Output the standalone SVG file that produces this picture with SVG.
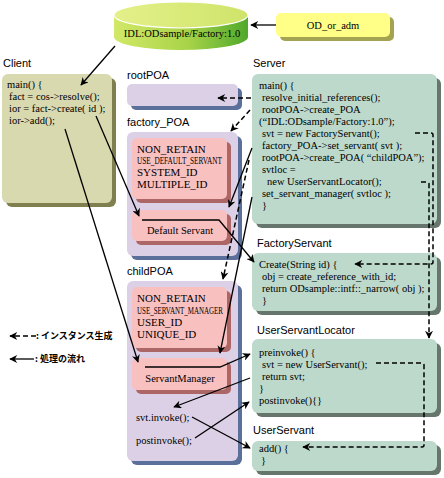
<svg xmlns="http://www.w3.org/2000/svg" width="444" height="478" viewBox="0 0 444 478">
<style>
.lbl{font-family:"Liberation Sans",Arial,sans-serif;font-size:11px;fill:#000}
.code{font-family:"Liberation Serif","Times New Roman",serif;font-size:10.5px;fill:#000}
.pol{font-family:"Liberation Serif","Times New Roman",serif;font-size:11px;fill:#000}
.polS{font-family:"Liberation Serif","Times New Roman",serif;font-size:9.5px;fill:#000}
.ln{fill:none;stroke:#000;stroke-width:1.3}
.dash{fill:none;stroke:#000;stroke-width:1.5;stroke-dasharray:5 3}
.cl{fill:#d9d9b0}.clS{fill:#7f7f4f}
.gr{fill:#bcd9cc}.grS{fill:#66766d}
.poa{fill:#dcd0e6}.poaS{fill:#5a6f9a}
.pk{fill:#f9c0c0}.pkS{fill:#ad6666}
.yl{fill:#ffff88}.ylS{fill:#a3a352}
.jp{font-family:"Noto Sans CJK JP","Liberation Sans",sans-serif;font-size:9px;font-weight:bold;fill:#000}
</style>
<defs>
<marker id="ah" viewBox="0 0 10 10" markerUnits="userSpaceOnUse" markerWidth="9" markerHeight="8" refX="9" refY="5" orient="auto">
<path d="M0,0 L10,5 L0,10 L3,5 z" fill="#000"/>
</marker>
<linearGradient id="cylBody" x1="0" y1="0" x2="1" y2="0">
<stop offset="0" stop-color="#d2e868"/>
<stop offset="0.55" stop-color="#a8d448"/>
<stop offset="1" stop-color="#4fa82c"/>
</linearGradient>
<linearGradient id="cylTop" x1="0" y1="0" x2="1" y2="0">
<stop offset="0" stop-color="#e4f08a"/>
<stop offset="1" stop-color="#cfe46a"/>
</linearGradient>
</defs>

<g id="repository">
<path d="M114,15 V37 A67,13 0 0 0 248,37 V15 Z" fill="url(#cylBody)"/>
<ellipse cx="181" cy="15" rx="67" ry="13" fill="url(#cylTop)" stroke="#ffffff" stroke-width="1.2"/>
<text class="code" x="182" y="37" text-anchor="middle">IDL:ODsample/Factory:1.0</text>
</g>

<g id="od_or_adm">
<rect class="ylS" x="280" y="17" width="114" height="24" rx="5"/>
<rect class="yl" x="276" y="13" width="114" height="24" rx="5"/>
<text class="code" x="333" y="29" text-anchor="middle">OD_or_adm</text>
</g>

<g id="client">
<text class="lbl" x="3" y="67">Client</text>
<rect class="clS" x="6" y="78" width="110" height="129" rx="6"/>
<rect class="cl" x="2" y="74" width="110" height="129" rx="6"/>
<text class="code" x="7" y="88">main() {</text>
<text class="code" x="9" y="100">fact = cos-&gt;resolve();</text>
<text class="code" x="9" y="112">ior = fact-&gt;create( id );</text>
<text class="code" x="9" y="124">ior-&gt;add();</text>
</g>

<g id="server">
<text class="lbl" x="253" y="67">Server</text>
<rect class="grS" x="256" y="78" width="185" height="150" rx="6"/>
<rect class="gr" x="252" y="74" width="185" height="150" rx="6"/>
<text class="code" x="259" y="89">main() {</text>
<text class="code" x="262" y="101">resolve_initial_references();</text>
<text class="code" x="262" y="113">rootPOA-&gt;create_POA</text>
<text class="code" x="259" y="125">(“IDL:ODsample/Factory:1.0”);</text>
<text class="code" x="262" y="137">svt = new FactoryServant();</text>
<text class="code" x="262" y="149">factory_POA-&gt;set_servant( svt );</text>
<text class="code" x="262" y="161">rootPOA-&gt;create_POA( “childPOA”);</text>
<text class="code" x="262" y="173">svtloc =</text>
<text class="code" x="267" y="185">new UserServantLocator();</text>
<text class="code" x="262" y="197">set_servant_manager( svtloc );</text>
<text class="code" x="262" y="209">}</text>
</g>

<g id="rootPOA">
<text class="lbl" x="127" y="79">rootPOA</text>
<rect class="poaS" x="131" y="88" width="111" height="22" rx="5"/>
<rect class="poa" x="127" y="84" width="111" height="22" rx="5"/>
</g>

<g id="factory_POA">
<text class="lbl" x="127" y="126">factory_POA</text>
<rect class="poaS" x="131" y="136" width="111" height="124" rx="6"/>
<rect class="poa" x="127" y="132" width="111" height="124" rx="6"/>
<rect class="pkS" x="136" y="142" width="95" height="61" rx="5"/>
<rect class="pk" x="132" y="138" width="95" height="61" rx="5"/>
<text class="pol" x="137" y="153">NON_RETAIN</text>
<text class="polS" x="137" y="164" textLength="85" lengthAdjust="spacingAndGlyphs">USE_DEFAULT_SERVANT</text>
<text class="pol" x="137" y="176">SYSTEM_ID</text>
<text class="pol" x="137" y="188">MULTIPLE_ID</text>
</g>

<g id="default_servant">
<rect class="pkS" x="136" y="214" width="95" height="31" rx="5"/>
<rect class="pk" x="132" y="210" width="95" height="31" rx="5"/>
<text class="code" x="180" y="234" text-anchor="middle">Default Servant</text>
</g>

<g id="childPOA">
<text class="lbl" x="127" y="275">childPOA</text>
<rect class="poaS" x="131" y="285" width="111" height="180" rx="6"/>
<rect class="poa" x="127" y="281" width="111" height="180" rx="6"/>
<rect class="pkS" x="136" y="291" width="95" height="61" rx="5"/>
<rect class="pk" x="132" y="287" width="95" height="61" rx="5"/>
<text class="pol" x="137" y="302">NON_RETAIN</text>
<text class="polS" x="137" y="314" textLength="86" lengthAdjust="spacingAndGlyphs">USE_SERVANT_MANAGER</text>
<text class="pol" x="137" y="326">USER_ID</text>
<text class="pol" x="137" y="338">UNIQUE_ID</text>
<text class="code" x="136" y="421">svt.invoke();</text>
<text class="code" x="136" y="444">postinvoke();</text>
</g>

<g id="servant_manager">
<rect class="pkS" x="136" y="362" width="95" height="32" rx="5"/>
<rect class="pk" x="132" y="358" width="95" height="32" rx="5"/>
<text class="code" x="180" y="382" text-anchor="middle">ServantManager</text>
</g>

<g id="factory_servant">
<text class="lbl" x="257" y="247">FactoryServant</text>
<rect class="grS" x="256" y="257" width="185" height="58" rx="6"/>
<rect class="gr" x="252" y="253" width="185" height="58" rx="6"/>
<text class="code" x="259" y="268">Create(String id) {</text>
<text class="code" x="262" y="280">obj = create_reference_with_id;</text>
<text class="code" x="262" y="292">return ODsample::intf::_narrow( obj );</text>
<text class="code" x="262" y="304">}</text>
</g>

<g id="user_servant_locator">
<text class="lbl" x="257" y="334">UserServantLocator</text>
<rect class="grS" x="256" y="343" width="185" height="74" rx="6"/>
<rect class="gr" x="252" y="339" width="185" height="74" rx="6"/>
<text class="code" x="259" y="356">preinvoke() {</text>
<text class="code" x="262" y="368">svt = new UserServant();</text>
<text class="code" x="262" y="380">return svt;</text>
<text class="code" x="259" y="392">}</text>
<text class="code" x="259" y="404">postinvoke(){}</text>
</g>

<g id="user_servant">
<text class="lbl" x="253" y="434">UserServant</text>
<rect class="grS" x="256" y="445" width="185" height="30" rx="6"/>
<rect class="gr" x="252" y="441" width="185" height="30" rx="6"/>
<text class="code" x="259" y="452">add() {</text>
<text class="code" x="261" y="464">}</text>
</g>

<g id="legend">
<text class="jp" x="36" y="339">: インスタンス生成</text>
<text class="jp" x="35" y="362">: 処理の流れ</text>
</g>

<g id="connectors">
<path class="ln" d="M115,46 L81,85" marker-end="url(#ah)"/>
<path class="ln" d="M276,25 L251,25" marker-end="url(#ah)"/>
<path class="ln" d="M96,116 L139,216" marker-end="url(#ah)"/>
<path class="ln" d="M142,220 H219 L254,262" marker-end="url(#ah)"/>
<path class="ln" d="M65,129 L138,362" marker-end="url(#ah)"/>
<path class="ln" d="M145,367 H220 L250,354" marker-end="url(#ah)"/>
<path class="ln" d="M250,378 L174,407" marker-end="url(#ah)"/>
<path class="ln" d="M192,417 L250,448" marker-end="url(#ah)"/>
<path class="ln" d="M195,438 L249,402" marker-end="url(#ah)"/>
<path class="ln" d="M252,148 L229,207" marker-end="url(#ah)"/>
<path class="ln" d="M252,197 L220,353" marker-end="url(#ah)"/>
<path class="dash" d="M251,98 L218,98" marker-end="url(#ah)"/>
<path class="dash" d="M250,110 L231,131" marker-end="url(#ah)"/>
<path class="dash" d="M249,160 L223,279" marker-end="url(#ah)"/>
<path class="dash" d="M415,133 H431 Q433,133 433,135 V262 Q433,264 431,264 H355" marker-end="url(#ah)"/>
<path class="dash" d="M421,182 H427 Q429,182 429,184 V338" marker-end="url(#ah)"/>
<path class="dash" d="M376,363 H422 Q424,363 424,365 V445 Q424,447 422,447 H303" marker-end="url(#ah)"/>
<path class="dash" d="M36,336 L10,336" marker-end="url(#ah)"/>
<path class="ln" d="M34,359 L10,359" marker-end="url(#ah)"/>
</g>
</svg>
